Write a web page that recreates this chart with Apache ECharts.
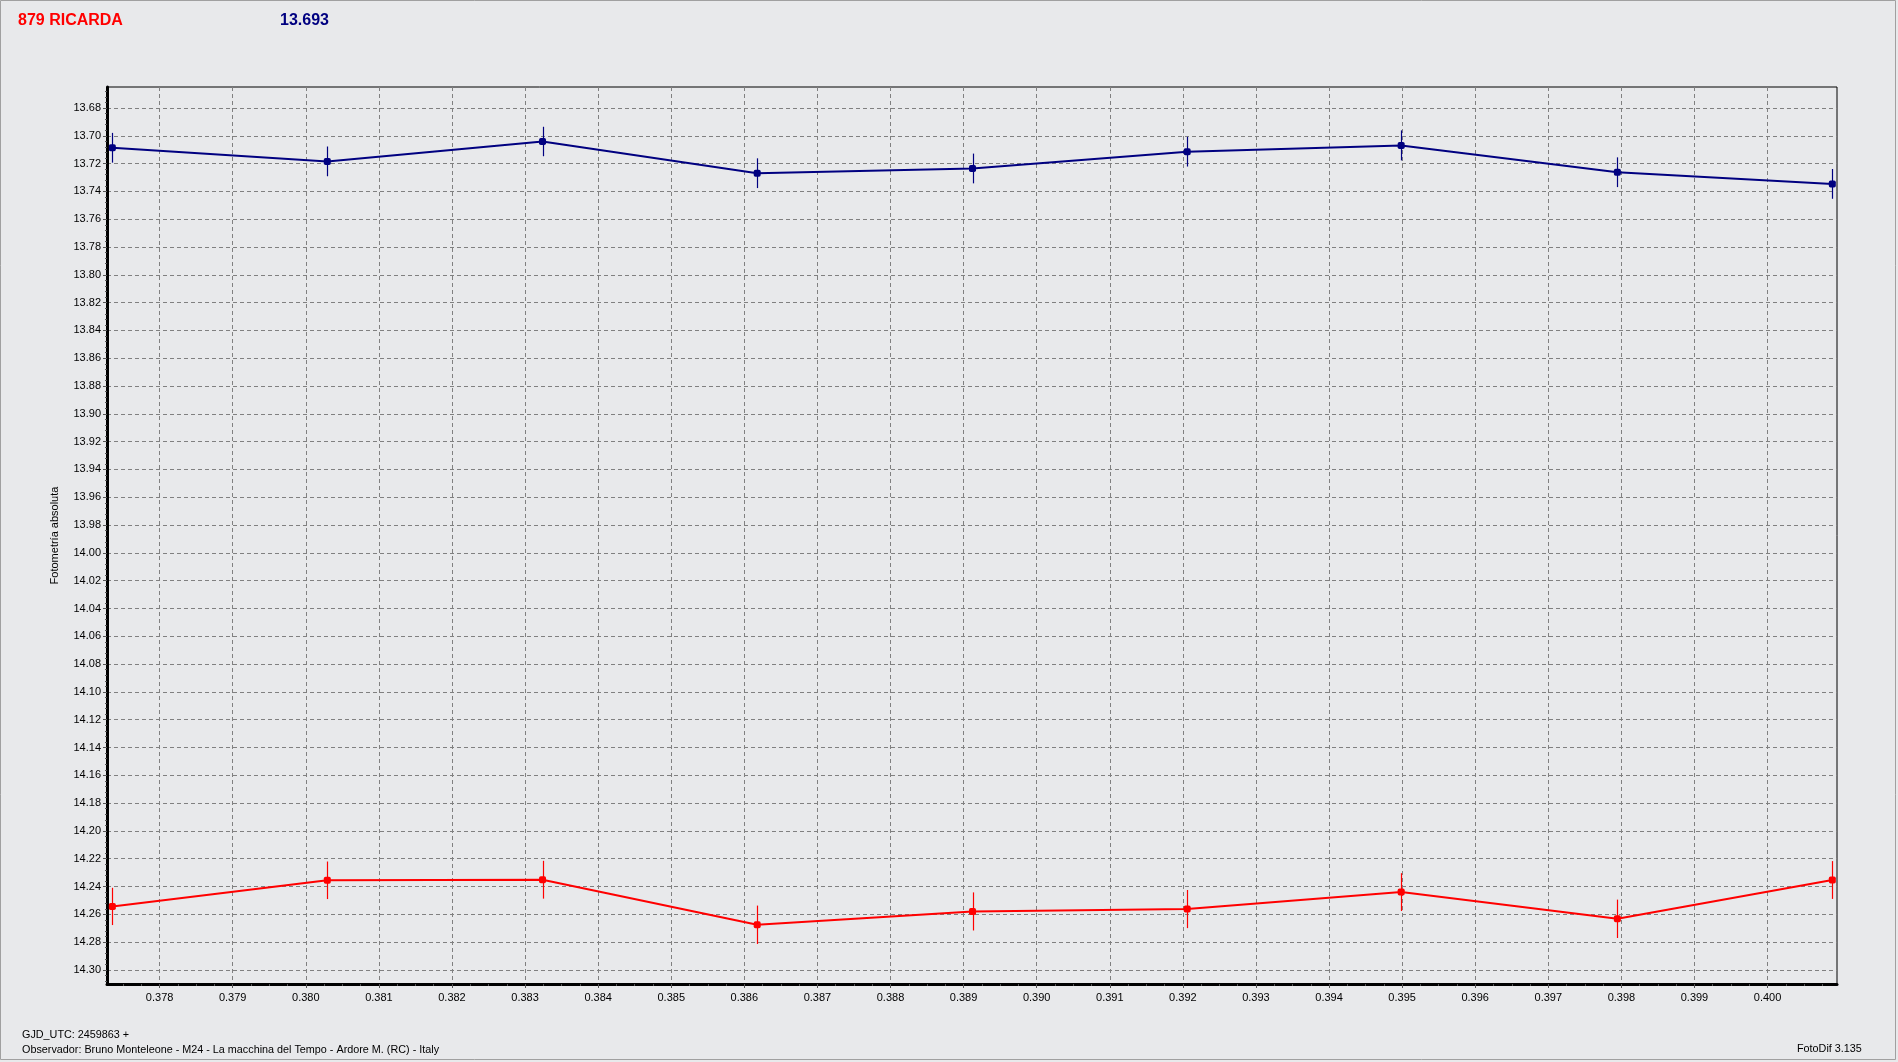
<!DOCTYPE html>
<html>
<head>
<meta charset="utf-8">
<script src="https://cdn.jsdelivr.net/npm/echarts@6/dist/echarts.min.js"></script>
<style>
html,body{margin:0;padding:0;background:#f0f0f0;}
#chart{width:1898px;height:1062px;background:#e8e9eb;}
</style>
</head>
<body>
<div id="chart"></div>
<script>
// ---- data ----
const xValues = [0.377353, 0.380294, 0.383239, 0.386176, 0.389122, 0.392059, 0.394987, 0.397945, 0.400886];
const blueMag = [13.7086, 13.7184, 13.7041, 13.7269, 13.7235, 13.7114, 13.7069, 13.7262, 13.7346];
const blueErr = [0.0107, 0.0107, 0.0106, 0.0107, 0.0107, 0.0107, 0.0108, 0.0107, 0.0107];
const redMag = [14.2543, 14.2355, 14.2351, 14.2675, 14.2579, 14.2562, 14.2440, 14.2632, 14.2353];
const redErr = [0.0134, 0.0135, 0.0136, 0.0138, 0.0137, 0.0137, 0.0136, 0.0138, 0.0136];
const xTicks = [0.378, 0.379, 0.380, 0.381, 0.382, 0.383, 0.384, 0.385, 0.386, 0.387, 0.388,
                0.389, 0.390, 0.391, 0.392, 0.393, 0.394, 0.395, 0.396, 0.397, 0.398, 0.399, 0.400];
const yTicks = [13.68, 13.70, 13.72, 13.74, 13.76, 13.78, 13.80, 13.82, 13.84, 13.86, 13.88,
                13.90, 13.92, 13.94, 13.96, 13.98, 14.00, 14.02, 14.04, 14.06, 14.08, 14.10,
                14.12, 14.14, 14.16, 14.18, 14.20, 14.22, 14.24, 14.26, 14.28, 14.30];
const objectName = '879 RICARDA';
const headerValue = '13.693';
const yAxisName = 'Fotometría absoluta';
const footer1 = 'GJD_UTC: 2459863 +';
const footer2 = 'Observador: Bruno Monteleone - M24 - La macchina del Tempo - Ardore M. (RC) - Italy';
const footer3 = 'FotoDif 3.135';

// ---- axis ranges ----
const xMin = 0.37728, xMax = 0.40095;
const yMin = 13.6649, yMax = 14.3101;

const xMinor = [];
for (let k = Math.ceil(xMin / 0.00025); k * 0.00025 <= xMax; k++) xMinor.push(+(k * 0.00025).toFixed(5));
const yMinor = [];
for (let k = Math.ceil(yMin / 0.004); k * 0.004 <= yMax; k++) yMinor.push(+(k * 0.004).toFixed(3));

const BLUE = '#000080', RED = '#ff0000';
const FONT = 'Liberation Sans, Arial, sans-serif';

function pts(ys) { return xValues.map((x, i) => [x, ys[i]]); }
function errPts(ys, es) { return xValues.map((x, i) => [x, ys[i], es[i]]); }
function errRender(color) {
  return function (params, api) {
    const x = api.value(0), y = api.value(1), e = api.value(2);
    const p1 = api.coord([x, y - e]);
    const p2 = api.coord([x, y + e]);
    return { type: 'line', shape: { x1: Math.round(p1[0]) + 0.5, y1: p1[1], x2: Math.round(p2[0]) + 0.5, y2: p2[1] },
             style: { stroke: color, lineWidth: 1.2 } };
  };
}

const chart = echarts.init(document.getElementById('chart'), null, { renderer: 'canvas' });
const baseX = { type: 'value', min: xMin, max: xMax, position: 'bottom', gridIndex: 0 };
const baseY = { type: 'value', min: yMin, max: yMax, inverse: true, position: 'left', gridIndex: 0 };

chart.setOption({
  animation: false,
  backgroundColor: '#e8e9eb',
  grid: { left: 107, top: 87, right: 61, bottom: 78, show: true, borderColor: '#000', borderWidth: 1,
          backgroundColor: 'transparent', containLabel: false, outerBoundsMode: 'none' },
  xAxis: [
    Object.assign({}, baseX, {
      axisLine: { show: true, onZero: false, lineStyle: { color: '#000', width: 3 } },
      axisTick: { show: false }, axisLabel: { show: false }, splitLine: { show: false }
    }),
    Object.assign({}, baseX, {
      axisLine: { show: false, onZero: false },
      axisTick: { show: true, inside: false, length: 4, customValues: xTicks, lineStyle: { color: '#555' } },
      axisLabel: { show: true, customValues: xTicks, margin: 8, color: '#000', fontFamily: FONT, fontSize: 11,
                   formatter: v => (+v).toFixed(3) },
      splitLine: { show: true, lineStyle: { color: '#808080', type: [4, 3], width: 1 } }
    }),
    Object.assign({}, baseX, {
      axisLine: { show: false, onZero: false },
      axisTick: { show: true, inside: false, length: 2, customValues: xMinor, lineStyle: { color: '#555' } },
      axisLabel: { show: false }, splitLine: { show: false }
    })
  ],
  yAxis: [
    Object.assign({}, baseY, {
      name: yAxisName, nameLocation: 'middle', nameGap: 47,
      nameTextStyle: { color: '#000', fontFamily: FONT, fontSize: 11 },
      axisLine: { show: true, onZero: false, lineStyle: { color: '#000', width: 3 } },
      axisTick: { show: false }, axisLabel: { show: false }, splitLine: { show: false }
    }),
    Object.assign({}, baseY, {
      axisLine: { show: false, onZero: false },
      axisTick: { show: true, inside: false, length: 4, customValues: yTicks, lineStyle: { color: '#555' } },
      axisLabel: { show: true, customValues: yTicks, margin: 6, color: '#000', fontFamily: FONT, fontSize: 11,
                   formatter: v => (+v).toFixed(2) },
      splitLine: { show: true, lineStyle: { color: '#808080', type: [4, 3], width: 1 } }
    }),
    Object.assign({}, baseY, {
      axisLine: { show: false, onZero: false },
      axisTick: { show: true, inside: false, length: 2, customValues: yMinor, lineStyle: { color: '#555' } },
      axisLabel: { show: false }, splitLine: { show: false }
    })
  ],
  series: [
    { type: 'line', name: 'blue', data: pts(blueMag), xAxisIndex: 0, yAxisIndex: 0,
      symbol: 'roundRect', symbolSize: 7, showSymbol: true,
      lineStyle: { color: BLUE, width: 2 }, itemStyle: { color: BLUE }, z: 5 },
    { type: 'custom', name: 'blueErr', data: errPts(blueMag, blueErr), xAxisIndex: 0, yAxisIndex: 0,
      renderItem: errRender(BLUE), z: 4 },
    { type: 'line', name: 'red', data: pts(redMag), xAxisIndex: 0, yAxisIndex: 0,
      symbol: 'roundRect', symbolSize: 7, showSymbol: true,
      lineStyle: { color: RED, width: 2 }, itemStyle: { color: RED }, z: 5 },
    { type: 'custom', name: 'redErr', data: errPts(redMag, redErr), xAxisIndex: 0, yAxisIndex: 0,
      renderItem: errRender(RED), z: 4 }
  ],
  graphic: [
    { type: 'rect', shape: { x: 0.5, y: 0.5, width: 1895, height: 1059 }, style: { fill: 'none', stroke: '#a0a0a0', lineWidth: 1 }, silent: true },
    { type: 'text', left: 18, top: 13, style: { text: objectName, fill: RED, font: 'bold 16px ' + FONT } },
    { type: 'text', left: 280, top: 13, style: { text: headerValue, fill: BLUE, font: 'bold 16px ' + FONT } },
    { type: 'text', left: 22, top: 1030, style: { text: footer1, fill: '#000', font: '10.8px ' + FONT } },
    { type: 'text', left: 22, top: 1045, style: { text: footer2, fill: '#000', font: '10.8px ' + FONT } },
    { type: 'text', left: 1797, top: 1044, style: { text: footer3, fill: '#000', font: '10.8px ' + FONT } }
  ]
});
</script>
</body>
</html>
